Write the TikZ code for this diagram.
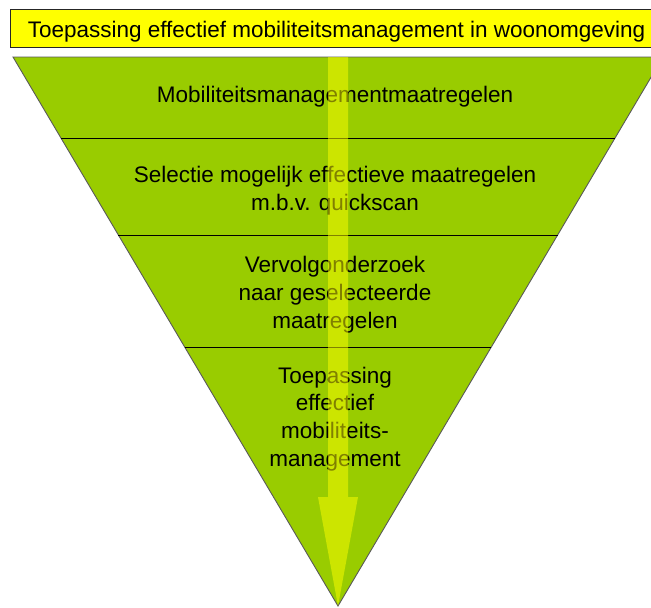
\documentclass[tikz,border=0pt]{standalone}
\usepackage{fontspec}
\setmainfont{Liberation Sans}
\usetikzlibrary{calc}
\definecolor{bandgreen}{HTML}{99CC00}
\definecolor{titleyellow}{HTML}{FFFF00}
\definecolor{arrowyellow}{HTML}{FFFF00}
\begin{document}
\begin{tikzpicture}[x=1pt,y=-1pt,
  txt/.style={inner sep=0pt, anchor=base, font=\fontsize{22.5}{27}\selectfont},
  titlebox/.style={draw=black!85, line width=0.9pt, fill=titleyellow, inner sep=0pt, anchor=north west},
  funnel/.style={fill=bandgreen, draw=black!65, line width=0.9pt, line join=miter},
  divider/.style={draw=black, line width=0.9pt},
  flowarrow/.style={fill=arrowyellow, opacity=0.5}]
\useasboundingbox (0,0) rectangle (651,608);
\begin{scope}
\clip (0,0) rectangle (651,608);
% title
\node[titlebox, minimum width=655pt, minimum height=38pt] (title) at (10,9) {};
\node[txt] (titletext) at (336.5,37) {Toepassing effectief mobiliteitsmanagement in woonomgeving};
% funnel
\coordinate (tl) at (13,57);
\coordinate (tr) at (663,57);
\coordinate (apex) at (338,606);
\path[funnel] (tl) -- (tr) -- (apex) -- cycle;
\draw[divider] ($(tl)!0.1475!(apex)$) -- ($(tr)!0.1475!(apex)$);
\draw[divider] ($(tl)!0.3242!(apex)$) -- ($(tr)!0.3242!(apex)$);
\draw[divider] ($(tl)!0.5282!(apex)$) -- ($(tr)!0.5282!(apex)$);
% texts
\node[txt] (l1) at (335,102) {Mobiliteitsmanagementmaatregelen};
\node[txt] (l2a) at (335,182) {Selectie mogelijk effectieve maatregelen};
\node[txt] (l2b) at (335,210) {m.b.v. quickscan};
\node[txt] (l3a) at (335,272) {Vervolgonderzoek};
\node[txt] (l3b) at (335,300) {naar geselecteerde};
\node[txt] (l3c) at (335,328) {maatregelen};
\node[txt] (l4a) at (335,383) {Toepassing};
\node[txt] (l4b) at (335,410.7) {effectief};
\node[txt] (l4c) at (335,438.4) {mobiliteits-};
\node[txt] (l4d) at (335,466) {management};
% arrow
\fill[flowarrow] (328,57) -- (348,57) -- (348,497) -- (358,497) -- (apex) -- (318,497) -- (328,497) -- cycle;
\end{scope}
\end{tikzpicture}
\end{document}
